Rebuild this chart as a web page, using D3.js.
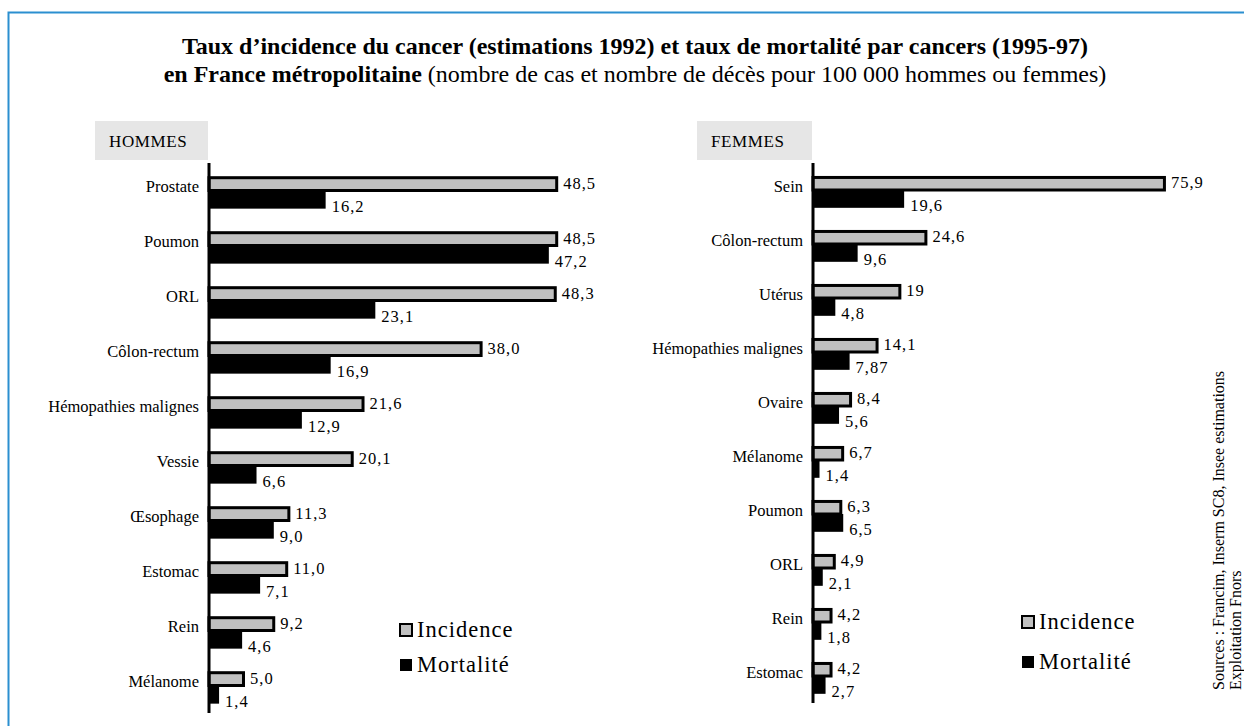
<!DOCTYPE html>
<html>
<head>
<meta charset="utf-8">
<script src="https://cdn.jsdelivr.net/npm/d3@7"></script>
<style>
  body { margin: 0; background: #fff; }
  svg { display: block; }
  svg text { font-family: "Liberation Serif", "Times New Roman", serif; }
</style>
</head>
<body>
<svg id="chart" width="1244" height="726"></svg>
<script>
// Données
const menCategories = ["Prostate", "Poumon", "ORL", "Côlon-rectum", "Hémopathies malignes", "Vessie", "Œsophage", "Estomac", "Rein", "Mélanome"];
const menIncidence = [48.5, 48.5, 48.3, 38.0, 21.6, 20.1, 11.3, 11.0, 9.2, 5.0];
const menMortality = [16.2, 47.2, 23.1, 16.9, 12.9, 6.6, 9.0, 7.1, 4.6, 1.4];

const womenCategories = ["Sein", "Côlon-rectum", "Utérus", "Hémopathies malignes", "Ovaire", "Mélanome", "Poumon", "ORL", "Rein", "Estomac"];
const womenIncidence = [75.9, 24.6, 19, 14.1, 8.4, 6.7, 6.3, 4.9, 4.2, 4.2];
const womenMortality = [19.6, 9.6, 4.8, 7.87, 5.6, 1.4, 6.5, 2.1, 1.8, 2.7];

const seriesNames = ["Incidence", "Mortalité"];

const FONT = "Liberation Serif, Times New Roman, serif";
const svg = d3.select("#chart");

// cadre bleu (haut et gauche visibles)
svg.append("rect")
    .attr("x", 8.5).attr("y", 12.5)
    .attr("width", 1400).attr("height", 900)
    .attr("fill", "none").attr("stroke", "#2b8fd0").attr("stroke-width", 2);

// titre
const title = svg.append("text")
    .attr("text-anchor", "middle")
    .attr("font-family", FONT)
    .attr("font-size", 24)
    .attr("fill", "#000");
title.append("tspan").attr("x", 635).attr("y", 54).attr("font-weight", "bold")
    .text("Taux d’incidence du cancer (estimations 1992) et taux de mortalité par cancers (1995-97)");
const line2 = title.append("tspan").attr("x", 635).attr("y", 82);
line2.append("tspan").attr("font-weight", "bold").text("en France métropolitaine");
line2.append("tspan").text(" (nombre de cas et nombre de décès pour 100 000 hommes ou femmes)");

/**
 * Dessine un panneau (hommes ou femmes)
 */
function drawPanel(opts) {
    const g = svg.append("g").attr("font-family", FONT);

    const y = d3.scaleBand()
        .domain(opts.categories)
        .range([opts.top, opts.bottom]);
    const x = d3.scaleLinear()
        .domain([0, opts.maxValue])
        .range([opts.axisX, opts.axisX + opts.width]);
    const bw = y.bandwidth();

    // étiquette du panneau
    g.append("rect")
        .attr("x", opts.boxX).attr("y", 121)
        .attr("width", opts.axisX - opts.boxX - 1).attr("height", 39)
        .attr("fill", "#e6e6e6");
    g.append("text")
        .attr("x", opts.boxX + 14).attr("y", 141)
        .attr("dy", "0.35em")
        .attr("font-size", 17)
        .attr("letter-spacing", 0.6)
        .text(opts.name);

    const rows = opts.categories.map((c, i) => ({
        cat: c, inc: opts.incidence[i], mort: opts.mortality[i]
    }));

    // barres de mortalité
    g.selectAll("rect.mort")
        .data(rows)
        .join("rect")
        .attr("class", "mort")
        .attr("x", opts.axisX)
        .attr("y", d => y(d.cat) + bw * 0.5)
        .attr("width", d => x(d.mort) - opts.axisX)
        .attr("height", bw * 0.33)
        .attr("fill", "#000");

    // barres d'incidence (gris, contour noir)
    g.selectAll("rect.inc")
        .data(rows)
        .join("rect")
        .attr("class", "inc")
        .attr("x", opts.axisX)
        .attr("y", d => y(d.cat) + bw * 0.24 + 1.5)
        .attr("width", d => x(d.inc) - opts.axisX - 1.5)
        .attr("height", bw * 0.26 - 1.5)
        .attr("fill", "#c0c0c0")
        .attr("stroke", "#000")
        .attr("stroke-width", 3);

    // axe vertical
    g.append("line")
        .attr("x1", opts.axisX).attr("x2", opts.axisX)
        .attr("y1", opts.top).attr("y2", opts.bottom)
        .attr("stroke", "#000").attr("stroke-width", 3);

    // noms des catégories
    g.selectAll("text.cat")
        .data(rows)
        .join("text")
        .attr("class", "cat")
        .attr("x", opts.axisX - 10)
        .attr("y", d => y(d.cat) + bw * 0.43)
        .attr("dy", "0.35em")
        .attr("text-anchor", "end")
        .attr("font-size", 16.5)
        .text(d => d.cat);

    // valeurs
    g.selectAll("text.incval")
        .data(rows)
        .join("text")
        .attr("class", "incval")
        .attr("x", d => x(d.inc) + 5)
        .attr("y", d => y(d.cat) + bw * 0.36)
        .attr("dy", "0.35em")
        .attr("font-size", 16.5)
        .attr("letter-spacing", 1)
        .text(d => opts.format(d.inc));

    g.selectAll("text.mortval")
        .data(rows)
        .join("text")
        .attr("class", "mortval")
        .attr("x", d => x(d.mort) + 6)
        .attr("y", d => y(d.cat) + bw * 0.78)
        .attr("dy", "0.35em")
        .attr("font-size", 16.5)
        .attr("letter-spacing", 1)
        .text(d => opts.format(d.mort));

    // légende
    const leg = g.append("g").attr("transform", `translate(${opts.legendX},${opts.legendY})`);
    seriesNames.forEach((s, i) => {
        const ly = i * opts.legendGap;
        leg.append("rect")
            .attr("x", 1).attr("y", ly - 5)
            .attr("width", 12).attr("height", 12)
            .attr("fill", i === 0 ? "#c0c0c0" : "#000")
            .attr("stroke", "#000").attr("stroke-width", i === 0 ? 2 : 0);
        leg.append("text")
            .attr("x", 18).attr("y", ly)
            .attr("dy", "0.35em")
            .attr("font-size", 22.5)
            .attr("letter-spacing", 1)
            .text(s);
    });
}

drawPanel({
    name: "HOMMES",
    categories: menCategories,
    incidence: menIncidence,
    mortality: menMortality,
    boxX: 95,
    axisX: 209,
    width: 360,
    maxValue: 50,
    top: 163,
    bottom: 713,
    format: v => v.toFixed(1).replace(".", ","),
    legendX: 399,
    legendY: 629,
    legendGap: 35
});

drawPanel({
    name: "FEMMES",
    categories: womenCategories,
    incidence: womenIncidence,
    mortality: womenMortality,
    boxX: 697,
    axisX: 813,
    width: 372,
    maxValue: 80,
    top: 163,
    bottom: 703,
    format: v => String(v).replace(".", ","),
    legendX: 1021,
    legendY: 621,
    legendGap: 40
});

// sources (texte vertical)
const src = svg.append("text")
    .attr("transform", "translate(1224,690) rotate(-90)")
    .attr("font-family", FONT)
    .attr("font-size", 16);
src.append("tspan").attr("x", 0).attr("y", 0).text("Sources : Francim, Inserm SC8, Insee estimations");
src.append("tspan").attr("x", 0).attr("y", 17).text("Exploitation Fnors");
</script>
</body>
</html>
